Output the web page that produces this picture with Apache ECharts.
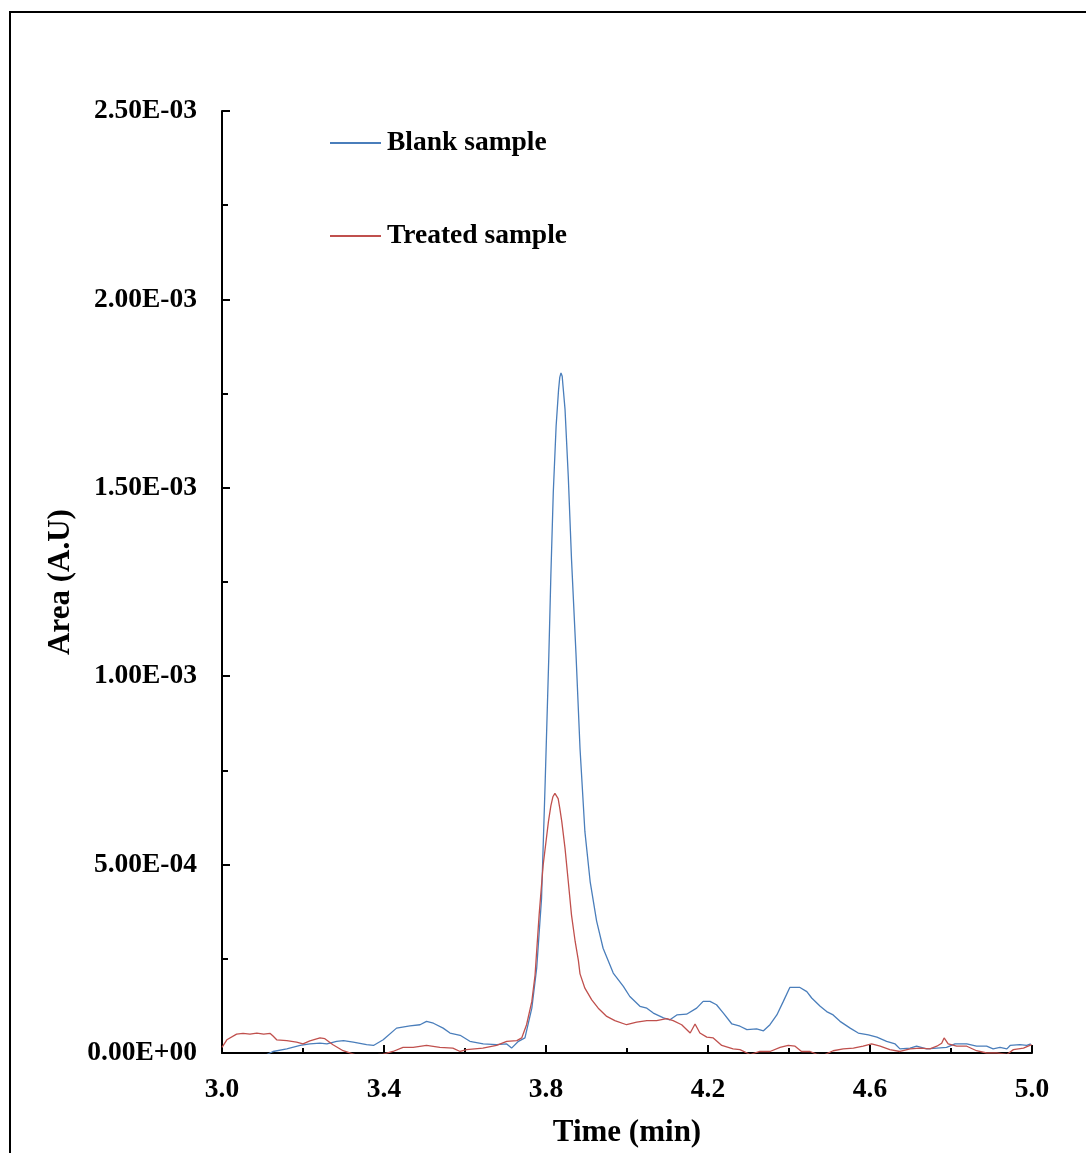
<!DOCTYPE html>
<html>
<head>
<meta charset="utf-8">
<title>Area vs Time</title>
<script src="https://cdn.jsdelivr.net/npm/echarts@6/dist/echarts.min.js"></script>
<style>
  html, body { margin: 0; padding: 0; background: #fff; }
  #chart { width: 1086px; height: 1153px; }
</style>
</head>
<body>
<div id="chart"></div>
<script>
// Blank sample trace: retention time (min) and peak area (A.U)
const blankTime = [
  3.000, 3.050, 3.101, 3.126, 3.160, 3.193, 3.217, 3.242, 3.259, 3.283,
  3.300, 3.324, 3.357, 3.374, 3.398, 3.431, 3.464, 3.489, 3.505, 3.522,
  3.546, 3.563, 3.588, 3.612, 3.645, 3.678, 3.703, 3.715, 3.732, 3.748,
  3.765, 3.777, 3.789, 3.798, 3.807, 3.812, 3.818, 3.825, 3.831, 3.834,
  3.837, 3.840, 3.842, 3.847, 3.855, 3.863, 3.874, 3.884, 3.896, 3.909,
  3.925, 3.941, 3.966, 3.991, 4.007, 4.032, 4.049, 4.065, 4.090, 4.106,
  4.123, 4.147, 4.172, 4.188, 4.205, 4.221, 4.238, 4.259, 4.279, 4.296,
  4.320, 4.337, 4.353, 4.370, 4.386, 4.402, 4.427, 4.444, 4.456, 4.477,
  4.493, 4.509, 4.526, 4.551, 4.571, 4.596, 4.617, 4.641, 4.662, 4.674,
  4.699, 4.715, 4.740, 4.765, 4.789, 4.810, 4.839, 4.863, 4.888, 4.904,
  4.921, 4.938, 4.946, 4.970, 4.987, 4.997
];
const blankArea = [
  -4.0e-5, -2.6e-5, -0.9e-5, 0.4e-5, 1.1e-5, 2.0e-5, 2.4e-5, 2.6e-5, 2.4e-5, 3.1e-5,
  3.3e-5, 2.9e-5, 2.2e-5, 2.0e-5, 3.5e-5, 6.6e-5, 7.2e-5, 7.5e-5, 8.4e-5, 7.9e-5,
  6.6e-5, 5.3e-5, 4.7e-5, 3.1e-5, 2.4e-5, 2.2e-5, 2.4e-5, 1.3e-5, 3.1e-5, 4.0e-5,
  11.9e-5, 22.5e-5, 41.0e-5, 72.0e-5, 105.5e-5, 126.7e-5, 148.8e-5, 166.4e-5, 176.0e-5, 179.3e-5,
  180.5e-5, 179.6e-5, 177.0e-5, 170.8e-5, 153.0e-5, 131.0e-5, 106.0e-5, 80.8e-5, 58.8e-5, 45.5e-5,
  35.0e-5, 27.8e-5, 21.2e-5, 17.7e-5, 15.0e-5, 12.4e-5, 11.9e-5, 10.6e-5, 9.3e-5, 8.8e-5,
  10.1e-5, 10.3e-5, 11.9e-5, 13.7e-5, 13.7e-5, 12.8e-5, 10.6e-5, 7.7e-5, 7.1e-5, 6.2e-5,
  6.4e-5, 5.9e-5, 7.5e-5, 10.1e-5, 13.7e-5, 17.4e-5, 17.4e-5, 16.3e-5, 14.6e-5, 12.4e-5,
  11.0e-5, 10.1e-5, 8.4e-5, 6.6e-5, 5.3e-5, 4.8e-5, 4.2e-5, 3.1e-5, 2.4e-5, 1.1e-5,
  1.3e-5, 1.8e-5, 1.1e-5, 1.3e-5, 1.5e-5, 2.4e-5, 2.4e-5, 1.8e-5, 1.8e-5, 1.1e-5,
  1.5e-5, 1.1e-5, 2.0e-5, 2.2e-5, 2.0e-5, 2.4e-5
];

// Treated sample trace
const treatedTime = [
  3.000, 3.012, 3.036, 3.052, 3.069, 3.086, 3.103, 3.119, 3.126, 3.135,
  3.160, 3.184, 3.200, 3.217, 3.242, 3.254, 3.274, 3.299, 3.333, 3.365,
  3.398, 3.422, 3.447, 3.472, 3.505, 3.538, 3.570, 3.588, 3.604, 3.644,
  3.678, 3.703, 3.728, 3.740, 3.752, 3.765, 3.773, 3.783, 3.793, 3.806,
  3.812, 3.817, 3.822, 3.826, 3.830, 3.834, 3.839, 3.847, 3.855, 3.863,
  3.872, 3.880, 3.884, 3.896, 3.913, 3.929, 3.950, 3.970, 3.999, 4.024,
  4.049, 4.073, 4.098, 4.114, 4.135, 4.156, 4.168, 4.180, 4.197, 4.213,
  4.234, 4.262, 4.279, 4.304, 4.328, 4.353, 4.378, 4.398, 4.415, 4.431,
  4.452, 4.468, 4.485, 4.509, 4.534, 4.559, 4.583, 4.604, 4.625, 4.649,
  4.674, 4.699, 4.723, 4.748, 4.765, 4.777, 4.783, 4.793, 4.814, 4.839,
  4.863, 4.888, 4.913, 4.938, 4.954, 4.979, 4.999
];
const treatedArea = [
  1.5e-5, 3.5e-5, 5.0e-5, 5.2e-5, 5.0e-5, 5.3e-5, 5.0e-5, 5.2e-5, 4.5e-5, 3.5e-5,
  3.3e-5, 2.9e-5, 2.4e-5, 3.2e-5, 4.0e-5, 3.8e-5, 2.2e-5, 0.6e-5, -0.6e-5, -0.6e-5,
  -0.3e-5, 0.4e-5, 1.5e-5, 1.5e-5, 2.0e-5, 1.5e-5, 1.3e-5, 0.4e-5, 0.9e-5, 1.3e-5,
  2.0e-5, 3.1e-5, 3.3e-5, 4.0e-5, 7.5e-5, 13.7e-5, 20.7e-5, 36.6e-5, 49.9e-5, 61.4e-5,
  65.6e-5, 68.0e-5, 68.9e-5, 68.7e-5, 67.5e-5, 65.0e-5, 61.4e-5, 54.3e-5, 45.5e-5, 36.6e-5,
  29.6e-5, 24.5e-5, 21.0e-5, 17.2e-5, 14.1e-5, 11.9e-5, 9.7e-5, 8.6e-5, 7.5e-5, 8.2e-5,
  8.6e-5, 8.6e-5, 9.1e-5, 8.6e-5, 7.5e-5, 5.3e-5, 7.7e-5, 5.3e-5, 4.2e-5, 4.0e-5,
  2.0e-5, 1.1e-5, 0.9e-5, -0.4e-5, 0.4e-5, 0.4e-5, 1.5e-5, 2.0e-5, 1.8e-5, 0.4e-5,
  0.4e-5, -0.3e-5, -0.6e-5, 0.6e-5, 1.1e-5, 1.3e-5, 1.8e-5, 2.4e-5, 1.8e-5, 0.9e-5,
  0.4e-5, 1.1e-5, 1.3e-5, 1.1e-5, 1.8e-5, 2.6e-5, 4.0e-5, 2.4e-5, 1.8e-5, 1.8e-5,
  0.6e-5, 0.0e-5, 0.0e-5, -0.4e-5, 0.9e-5, 1.3e-5, 2.2e-5
];

// Labelled time ticks (min)
const xTickLabels = [3.0, 3.4, 3.8, 4.2, 4.6, 5.0];

const seriesNames = ['Blank sample', 'Treated sample'];
const seriesColors = ['#4a7ebb', '#c0504d'];

const FONT = "'Liberation Serif', 'Times New Roman', serif";

function zip(xs, ys) {
  return xs.map((x, i) => [x, ys[i]]);
}

// Excel-style scientific notation, e.g. 2.50E-03
function sci(v) {
  if (v === 0) return '0.00E+00';
  let e = Math.floor(Math.log10(Math.abs(v)) + 1e-9);
  let m = v / Math.pow(10, e);
  if (Math.abs(m) >= 9.995) { m /= 10; e += 1; }
  return m.toFixed(2) + 'E' + (e < 0 ? '-' : '+') + String(Math.abs(e)).padStart(2, '0');
}

const chart = echarts.init(document.getElementById('chart'), null, { renderer: 'canvas' });

const axisLine = { show: true, onZero: false, lineStyle: { color: '#000', width: 2 } };

chart.setOption({
  backgroundColor: '#fff',
  animation: false,
  graphic: [{
    type: 'rect',
    z: -10,
    silent: true,
    shape: { x: 10, y: 12, width: 1300, height: 1300 },
    style: { fill: 'none', stroke: '#000', lineWidth: 2 }
  }],
  grid: { left: 222, top: 111, right: 54, bottom: 98, containLabel: false },
  legend: {
    orient: 'vertical',
    left: 325,
    top: 123,
    itemWidth: 51,
    itemHeight: 2,
    itemGap: 63,
    icon: 'rect',
    data: seriesNames,
    textStyle: {
      fontFamily: FONT, fontWeight: 'bold', fontSize: 27.5,
      color: '#000', lineHeight: 30, padding: [0, 0, 0, 1]
    }
  },
  xAxis: [{
    type: 'value',
    min: 3.0,
    max: 5.0,
    interval: 0.2,
    position: 'bottom',
    name: 'Time (min)',
    nameLocation: 'middle',
    nameGap: 64,
    nameTextStyle: { fontFamily: FONT, fontWeight: 'bold', fontSize: 31, color: '#000' },
    axisLine: axisLine,
    axisTick: { show: true, inside: true, length: 5, lineStyle: { color: '#000', width: 2 } },
    axisLabel: {
      customValues: xTickLabels,
      formatter: v => v.toFixed(1),
      margin: 23,
      fontFamily: FONT, fontWeight: 'bold', fontSize: 27.5, color: '#000'
    },
    splitLine: { show: false }
  }, {
    // longer ticks at the labelled times
    type: 'value',
    min: 3.0,
    max: 5.0,
    interval: 0.2,
    position: 'bottom',
    axisLine: { show: false, onZero: false },
    axisTick: { show: true, inside: true, length: 8, customValues: xTickLabels, lineStyle: { color: '#000', width: 2 } },
    axisLabel: { show: false },
    splitLine: { show: false }
  }],
  yAxis: {
    type: 'value',
    min: 0,
    max: 0.0025,
    interval: 0.0005,
    name: 'Area (A.U)',
    nameLocation: 'middle',
    nameRotate: 90,
    nameGap: 143,
    nameTextStyle: { fontFamily: FONT, fontWeight: 'bold', fontSize: 31, color: '#000' },
    axisLine: axisLine,
    axisTick: { show: true, inside: true, length: 8, lineStyle: { color: '#000', width: 2 } },
    minorTick: { show: true, splitNumber: 2, length: 6, lineStyle: { color: '#000', width: 2 } },
    axisLabel: {
      formatter: sci,
      margin: 25,
      fontFamily: FONT, fontWeight: 'bold', fontSize: 27.5, color: '#000'
    },
    splitLine: { show: false }
  },
  series: [{
    name: seriesNames[0],
    type: 'line',
    xAxisIndex: 0,
    data: zip(blankTime, blankArea),
    symbol: 'none',
    smooth: false,
    clip: true,
    color: seriesColors[0],
    lineStyle: { color: seriesColors[0], width: 1.3 },
    z: 3
  }, {
    name: seriesNames[1],
    type: 'line',
    xAxisIndex: 0,
    data: zip(treatedTime, treatedArea),
    symbol: 'none',
    smooth: false,
    clip: true,
    color: seriesColors[1],
    lineStyle: { color: seriesColors[1], width: 1.3 },
    z: 4
  }]
});
</script>
</body>
</html>
